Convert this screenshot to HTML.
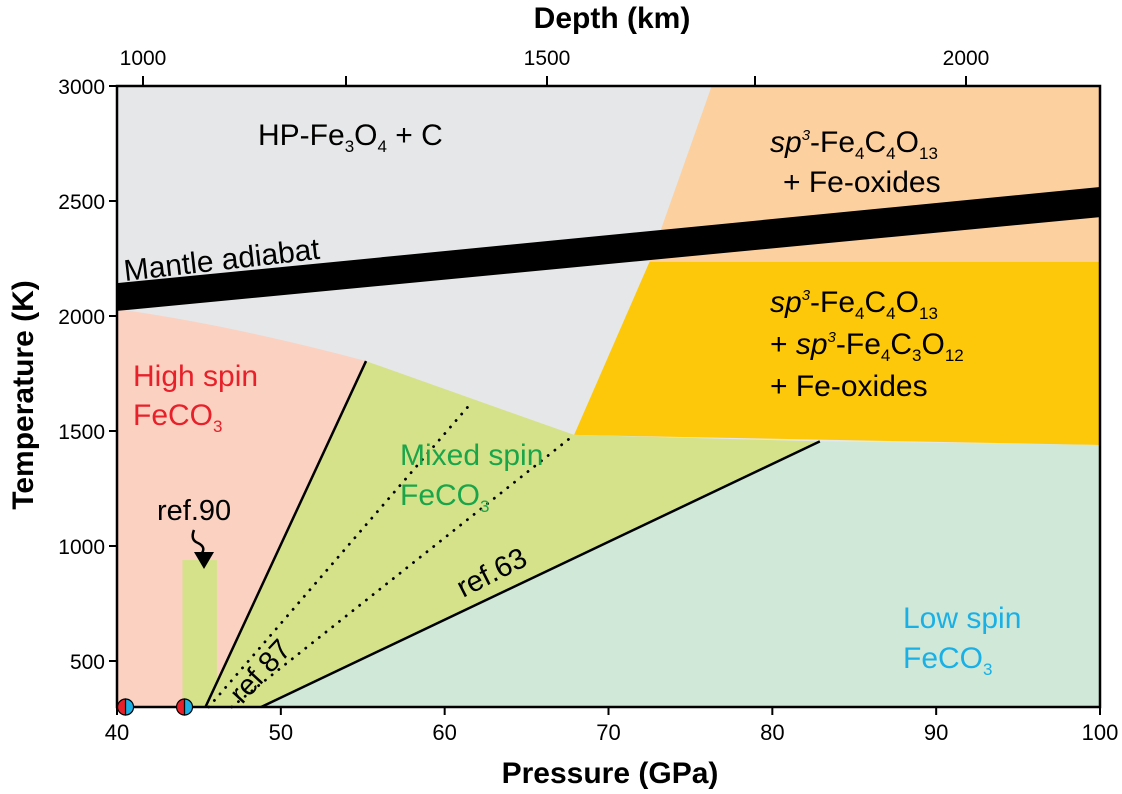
<!DOCTYPE html>
<html><head><meta charset="utf-8"><style>
html,body{margin:0;padding:0;background:#fff}
svg{display:block;font-family:"Liberation Sans",Arial,sans-serif}
</style></head><body>
<svg id="chart" width="1122" height="794" viewBox="0 0 1122 794"></svg>
<script>
const xTicks=[40,50,60,70,80,90,100];
const yTicks=[500,1000,1500,2000,2500,3000];
const depthTicks=[1000,1250,1500,1750,2000];
const depthLabels=["1000","","1500","","2000"];
const depthPx=[143,346,547,755,966];
const pinkCurveP=[40,47,55.2];
const pinkCurveT=[2030,1960,1804];
const adiabatP=[40,100];
const adiabatTop=[2143,2561];
const adiabatBot=[2022,2430];
const ref90P=[44.0,46.1];
const ref90T=[300,939];
const spinLineA=[[45.4,300],[55.2,1804]];
const spinLineB=[[48.8,300],[82.9,1455]];
const dotLineA=[[45.6,300],[61.6,1620]];
const dotLineB=[[47.0,300],[67.9,1483]];
const samples=[40.4,44.0];

const X0=117,X1=1100,Y0=707,Y1=86;
const sx=p=>X0+(p-40)/60*(X1-X0);
const sy=t=>Y0-(t-300)/2700*(Y0-Y1);
const NS="http://www.w3.org/2000/svg";
const svg=document.getElementById('chart');
function mk(tag,attrs,parent){const e=document.createElementNS(NS,tag);for(const k in attrs)e.setAttribute(k,attrs[k]);(parent||svg).appendChild(e);return e;}
const pts=a=>a.map(([p,t])=>sx(p).toFixed(1)+','+sy(t).toFixed(1)).join(' ');

let e;
e=mk('rect',{x:X0,y:Y1,width:X1-X0,height:Y0-Y1,fill:'#e6e7e8'});


e=mk('polygon',{points:pts([[76.3,3000],[100,3000],[100,2235],[72.5,2235]]),fill:'#fdd09f'});


e=mk('polygon',{points:pts([[72.5,2235],[100,2235],[100,1439],[67.9,1483]]),fill:'#fec80a'});


e=mk('path',{d:`M${sx(40)},${sy(300)} L${sx(40)},${sy(pinkCurveT[0])} Q${sx(pinkCurveP[1])},${sy(pinkCurveT[1])} ${sx(pinkCurveP[2])},${sy(pinkCurveT[2])} L${sx(spinLineA[0][0])},${sy(300)} Z`,fill:'#fbd1c1'});


e=mk('polygon',{points:pts([spinLineA[0],spinLineA[1],[67.9,1483],[82.9,1455],spinLineB[0]]),fill:'#d5e28a'});


e=mk('polygon',{points:pts([spinLineB[0],spinLineB[1],[100,1439],[100,300]]),fill:'#cfe8d8'});


e=mk('polygon',{points:pts([[adiabatP[0],adiabatTop[0]],[adiabatP[1],adiabatTop[1]],[adiabatP[1],adiabatBot[1]],[adiabatP[0],adiabatBot[0]]]),fill:'#000'});


e=mk('rect',{x:sx(ref90P[0]),y:sy(ref90T[1]),width:sx(ref90P[1])-sx(ref90P[0]),height:sy(ref90T[0])-sy(ref90T[1]),fill:'#d5e28a'});


[spinLineA,spinLineB].forEach((l,i)=>{
 e=mk('line',{x1:sx(l[0][0]),y1:sy(l[0][1]),x2:sx(l[1][0]),y2:sy(l[1][1]),stroke:'#000','stroke-width':2.5});
 
 
});
[dotLineA,dotLineB].forEach((l,i)=>{
 e=mk('line',{x1:sx(l[0][0]),y1:sy(l[0][1]),x2:sx(l[1][0]),y2:sy(l[1][1]),stroke:'#000','stroke-width':2.8,'stroke-dasharray':'0.1 8.5','stroke-linecap':'round'});
 
 
});
e=mk('rect',{x:X0,y:Y1,width:X1-X0,height:Y0-Y1,fill:'none',stroke:'#000','stroke-width':2.5});


xTicks.forEach(v=>{
 e=mk('line',{x1:sx(v),y1:Y0,x2:sx(v),y2:Y0+8,stroke:'#000','stroke-width':2});
 
 
 e=mk('text',{x:sx(v),y:Y0+33,'text-anchor':'middle','font-size':22});
 e.textContent=v;
 
 
});
yTicks.forEach(v=>{
 e=mk('line',{x1:X0-8,y1:sy(v),x2:X0,y2:sy(v),stroke:'#000','stroke-width':2});
 
 
 e=mk('text',{x:X0-12,y:sy(v)+8,'text-anchor':'end','font-size':21});
 e.textContent=v;
 
 
});
depthTicks.forEach((v,i)=>{
 e=mk('line',{x1:depthPx[i],y1:Y1,x2:depthPx[i],y2:Y1-10,stroke:'#000','stroke-width':2});
 
 
 if(depthLabels[i]){
  e=mk('text',{x:depthPx[i],y:Y1-21,'text-anchor':'middle','font-size':21});
  e.textContent=depthLabels[i];
  
  
 }
});
samples.forEach(p=>{
 const cx=sx(p)+2,cy=Y0,r=8;
 e=mk('path',{d:`M${cx},${cy-r} A${r},${r} 0 0 0 ${cx},${cy+r} Z`,fill:'#e8202a',stroke:'#000','stroke-width':1.2});
 
 
 e=mk('path',{d:`M${cx},${cy-r} A${r},${r} 0 0 1 ${cx},${cy+r} Z`,fill:'#1ab0e6',stroke:'#000','stroke-width':1.2});
 
 
});
e=mk('path',{d:'M194,530 Q190,540 198,543 Q206,547 202,553 L203,562',fill:'none',stroke:'#000','stroke-width':2.5});


e=mk('polygon',{points:'194,552 214,552 204,569',fill:'#000'});


</script>
<svg width="1122" height="794" style="position:absolute;left:0;top:0;font-family:'Liberation Sans',Arial,sans-serif">
<text x="610" y="783" text-anchor="middle" font-size="30" font-weight="bold">Pressure (GPa)</text>
<text x="612" y="28" text-anchor="middle" font-size="30" font-weight="bold">Depth (km)</text>
<text transform="translate(33,395) rotate(-90)" text-anchor="middle" font-size="30" font-weight="bold">Temperature (K)</text>
<text x="258" y="145" font-size="30">HP-Fe<tspan font-size="17" dy="7">3</tspan><tspan dy="-7">O</tspan><tspan font-size="17" dy="7">4</tspan><tspan dy="-7"> + C</tspan></text>
<text x="770" y="152" font-size="30"><tspan font-style="italic">sp</tspan><tspan font-style="italic" font-size="15" dy="-12">3</tspan><tspan dy="12">-Fe</tspan><tspan font-size="17" dy="7">4</tspan><tspan dy="-7">C</tspan><tspan font-size="17" dy="7">4</tspan><tspan dy="-7">O</tspan><tspan font-size="17" dy="7">13</tspan></text>
<text x="783" y="192" font-size="30">+ Fe-oxides</text>
<text transform="translate(125,281) rotate(-6.5)" font-size="30">Mantle adiabat</text>
<text x="770" y="312" font-size="30"><tspan font-style="italic">sp</tspan><tspan font-style="italic" font-size="15" dy="-12">3</tspan><tspan dy="12">-Fe</tspan><tspan font-size="17" dy="7">4</tspan><tspan dy="-7">C</tspan><tspan font-size="17" dy="7">4</tspan><tspan dy="-7">O</tspan><tspan font-size="17" dy="7">13</tspan></text>
<text x="770" y="354" font-size="30">+ <tspan font-style="italic">sp</tspan><tspan font-style="italic" font-size="15" dy="-12">3</tspan><tspan dy="12">-Fe</tspan><tspan font-size="17" dy="7">4</tspan><tspan dy="-7">C</tspan><tspan font-size="17" dy="7">3</tspan><tspan dy="-7">O</tspan><tspan font-size="17" dy="7">12</tspan></text>
<text x="770" y="396" font-size="30">+ Fe-oxides</text>
<text x="133" y="386" font-size="30" fill="#e8202a">High spin</text>
<text x="133" y="425" font-size="30" fill="#e8202a">FeCO<tspan font-size="17" dy="7">3</tspan></text>
<text x="400" y="465" font-size="30" fill="#1aa54a">Mixed spin</text>
<text x="400" y="505" font-size="30" fill="#1aa54a">FeCO<tspan font-size="17" dy="7">3</tspan></text>
<text x="903" y="628" font-size="30" fill="#1ab0e6">Low spin</text>
<text x="903" y="668" font-size="30" fill="#1ab0e6">FeCO<tspan font-size="17" dy="7">3</tspan></text>
<text x="157" y="520" font-size="29">ref.90</text>
<text transform="translate(242,705) rotate(-47)" font-size="29">ref 87</text>
<text transform="translate(463,598) rotate(-27)" font-size="29">ref.63</text>
</svg>
</body></html>
